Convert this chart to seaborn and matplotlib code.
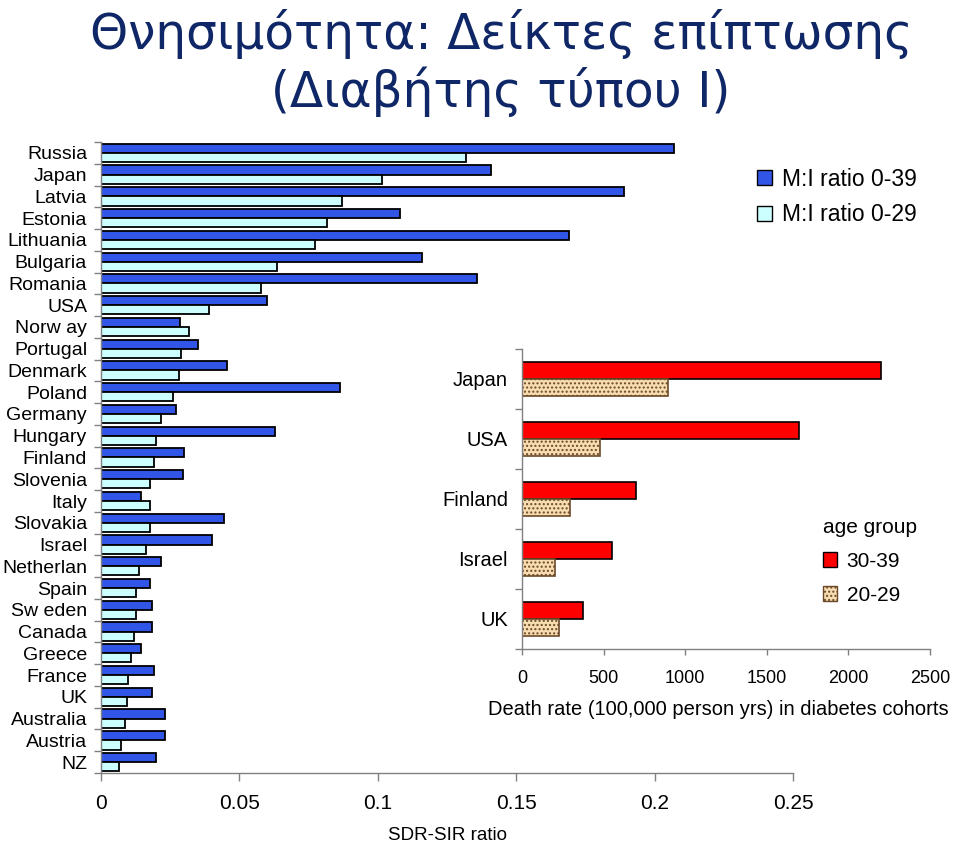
import matplotlib
matplotlib.use("Agg")
import matplotlib.pyplot as plt
import seaborn as sns
import pandas as pd
from matplotlib.patches import Patch
from matplotlib.ticker import FixedLocator

countries = ["Russia", "Japan", "Latvia", "Estonia", "Lithuania", "Bulgaria", "Romania", "USA",
             "Norw ay", "Portugal", "Denmark", "Poland", "Germany", "Hungary", "Finland", "Slovenia",
             "Italy", "Slovakia", "Israel", "Netherlan", "Spain", "Sw eden", "Canada", "Greece",
             "France", "UK", "Australia", "Austria", "NZ"]
ratio_0_39 = [0.207, 0.141, 0.189, 0.108, 0.169, 0.116, 0.136, 0.060,
              0.0285, 0.035, 0.0455, 0.0865, 0.027, 0.063, 0.030, 0.0296,
              0.0145, 0.0444, 0.040, 0.0217, 0.0177, 0.0184, 0.0184, 0.0145,
              0.019, 0.0184, 0.023, 0.023, 0.020]
ratio_0_29 = [0.132, 0.1015, 0.087, 0.0816, 0.0773, 0.0636, 0.0578, 0.039,
              0.0318, 0.029, 0.028, 0.026, 0.0217, 0.0199, 0.019, 0.0177,
              0.0177, 0.0177, 0.0163, 0.0137, 0.0126, 0.0126, 0.012, 0.011,
              0.0098, 0.0094, 0.0087, 0.0072, 0.0065]
series_main = ["M:I ratio 0-39", "M:I ratio 0-29"]

inset_countries = ["Japan", "USA", "Finland", "Israel", "UK"]
death_30_39 = [2200, 1700, 700, 550, 375]
death_20_29 = [895, 475, 295, 200, 225]
age_groups = ["30-39", "20-29"]

title_text = "Θνησιμότητα: Δείκτες επίπτωσης\n(Διαβήτης τύπου Ι)"

sns.set_theme(style="white")
plt.rcParams["font.family"] = ["Liberation Sans", "DejaVu Sans"]
for k in ["text.color", "axes.labelcolor", "xtick.labelcolor", "ytick.labelcolor"]:
    plt.rcParams[k] = "black"

fig = plt.figure(figsize=(9.6, 8.43), dpi=100)

# ---------- main chart ----------
df_main = pd.DataFrame({
    "country": countries * 2,
    "value": ratio_0_39 + ratio_0_29,
    "series": [series_main[0]] * len(countries) + [series_main[1]] * len(countries),
})
ax = fig.add_axes([101 / 960, 1 - 773 / 843, (793 - 101) / 960, (773 - 142) / 843])
sns.barplot(data=df_main, y="country", x="value", hue="series", order=countries,
            hue_order=series_main, palette=["#3155E6", "#CCFFFF"], orient="h",
            width=0.84, edgecolor="black", linewidth=1.3, ax=ax, legend=False,
            saturation=1)
ax.set_xlim(0, 0.25)
ax.set_ylim(len(countries) - 0.5, -0.5)
ax.set_xticks([0, 0.05, 0.1, 0.15, 0.2, 0.25])
ax.set_xticklabels(["0", "0.05", "0.1", "0.15", "0.2", "0.25"], fontsize=15)
ax.set_xlabel("SDR-SIR ratio", fontsize=13.5, labelpad=10)
ax.set_ylabel("")
ax.tick_params(axis="y", which="major", length=0, pad=10, labelsize=14, labelcolor="black")
ax.yaxis.set_minor_locator(FixedLocator([i - 0.5 for i in range(len(countries) + 1)]))
ax.tick_params(axis="y", which="minor", length=5, color="#808080", width=1, direction="out", left=True)
ax.tick_params(axis="x", which="major", length=6, color="#808080", width=1, direction="out",
               bottom=True, pad=9, labelcolor="black")
for s in ["top", "right"]:
    ax.spines[s].set_visible(False)
for s in ["left", "bottom"]:
    ax.spines[s].set_color("#808080")
    ax.spines[s].set_linewidth(1)
ax.set_facecolor("none")

fig.legend(handles=[Patch(facecolor="#3155E6", edgecolor="black", label=series_main[0]),
                    Patch(facecolor="#CCFFFF", edgecolor="black", label=series_main[1])],
           loc="upper left", bbox_to_anchor=(736 / 960, 1 - 147 / 843), frameon=False,
           fontsize=16.5, handlelength=0.65, handleheight=0.65, handletextpad=0.45,
           labelspacing=0.55)

# ---------- inset chart ----------
df_in = pd.DataFrame({
    "country": inset_countries * 2,
    "rate": death_30_39 + death_20_29,
    "age": [age_groups[0]] * len(inset_countries) + [age_groups[1]] * len(inset_countries),
})
ax2 = fig.add_axes([522 / 960, 1 - 649 / 843, (930 - 522) / 960, (649 - 349) / 843])
sns.barplot(data=df_in, y="country", x="rate", hue="age", order=inset_countries,
            hue_order=age_groups, palette=["#FF0000", "#F8DDB0"], orient="h",
            width=0.58, edgecolor="black", linewidth=1.2, ax=ax2, legend=False,
            saturation=1)
n_in = len(inset_countries)
for i, p in enumerate(ax2.patches[:2 * n_in]):
    if i >= n_in:
        p.set_hatch("....")
        p.set_edgecolor("#6b4a2a")
ax2.set_xlim(0, 2500)
ax2.set_ylim(n_in - 0.5, -0.5)
ax2.set_xticks([0, 500, 1000, 1500, 2000, 2500])
ax2.set_xticklabels(["0", "500", "1000", "1500", "2000", "2500"], fontsize=13)
ax2.set_xlabel("Death rate (100,000 person yrs) in diabetes cohorts", fontsize=14.5, labelpad=9)
ax2.xaxis.set_label_coords(0.48, -0.17)
ax2.set_ylabel("")
ax2.tick_params(axis="y", which="major", length=0, pad=10, labelsize=14.5, labelcolor="black")
ax2.yaxis.set_minor_locator(FixedLocator([i - 0.5 for i in range(n_in + 1)]))
ax2.tick_params(axis="y", which="minor", length=5, color="#808080", width=1, direction="out", left=True)
ax2.tick_params(axis="x", which="major", length=4, color="#808080", width=1, direction="out",
                bottom=True, pad=11, labelcolor="black")
for s in ["top", "right"]:
    ax2.spines[s].set_visible(False)
for s in ["left", "bottom"]:
    ax2.spines[s].set_color("#808080")
    ax2.spines[s].set_linewidth(1)
ax2.set_facecolor("none")

fig.legend(handles=[Patch(facecolor="#FF0000", edgecolor="black", label=age_groups[0]),
                    Patch(facecolor="#F8DDB0", edgecolor="#6b4a2a", hatch="....", label=age_groups[1])],
           loc="upper left", bbox_to_anchor=(804 / 960, 1 - 499 / 843), frameon=False,
           fontsize=15, title="age group", title_fontsize=15, alignment="left",
           handlelength=0.7, handleheight=0.7, handletextpad=0.45, labelspacing=0.72)

# ---------- title ----------
fig.text(0.522, 1 - 63 / 843, title_text, ha="center", va="center", fontsize=35,
         color="#0F2766", family=["DejaVu Sans"], linespacing=1.2)

fig.savefig("out.png", dpi=100)
